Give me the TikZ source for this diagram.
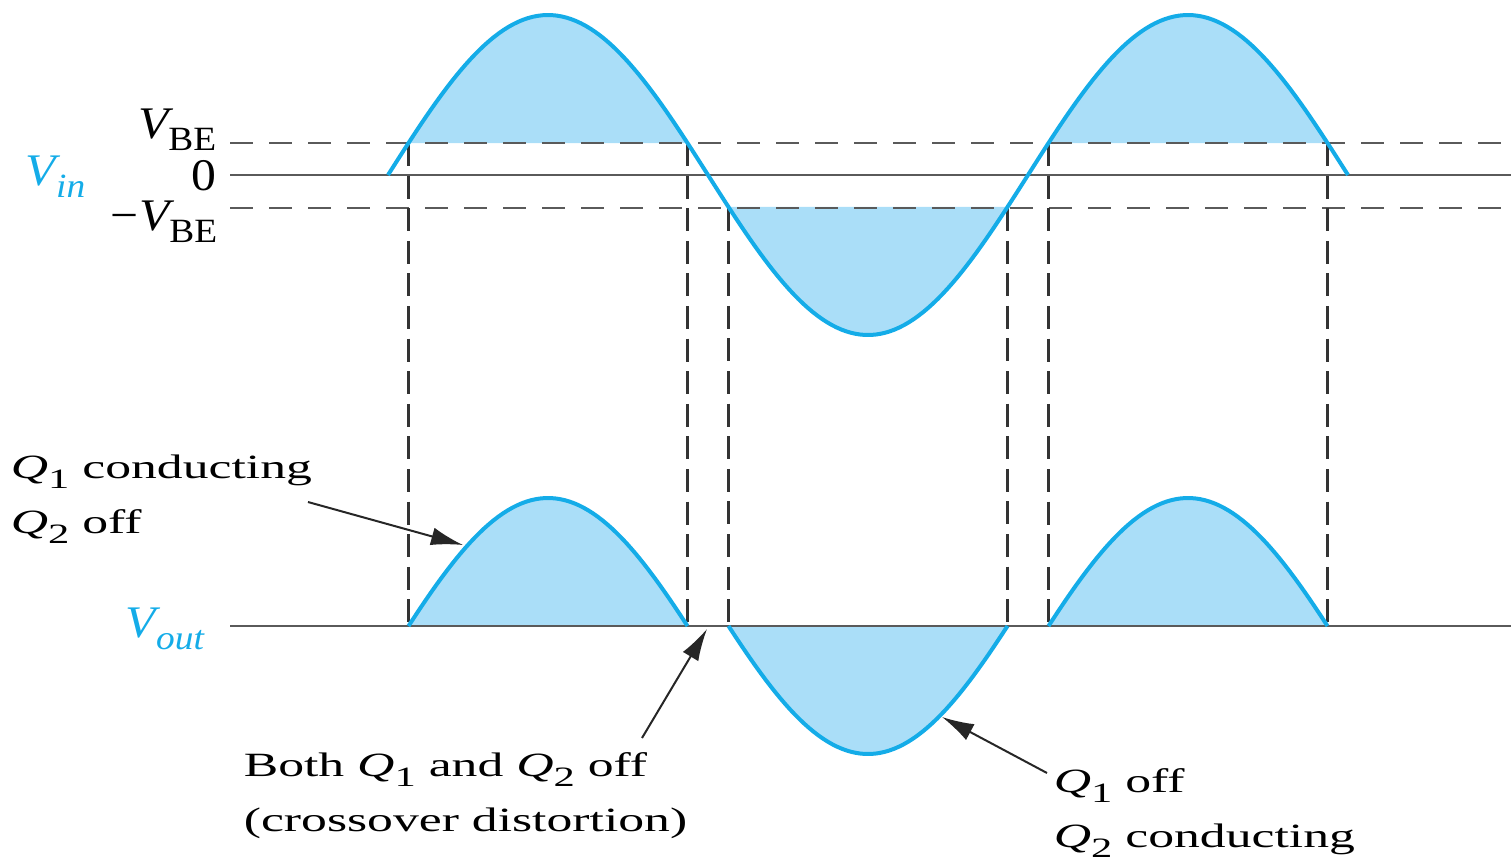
\documentclass[tikz,border=0pt]{standalone}
\usepackage{fontspec}
\setmainfont{Liberation Serif}[FakeStretch=1.52]
\newfontfamily\symfont{Liberation Serif}[FakeStretch=1.1]
\usetikzlibrary{arrows.meta}
\definecolor{wavecol}{RGB}{20,172,232}
\definecolor{wavefill}{RGB}{170,222,248}
\definecolor{axisgray}{RGB}{90,90,90}
% V with an upright or italic subscript, Q with a digit
\newcommand{\Vbig}{{\symfont\fontsize{11.3}{13}\selectfont\itshape V}}
\newcommand{\lowsub}[1]{\raisebox{-3pt}{\symfont\fontsize{8.5}{10}\selectfont #1}}
\newcommand{\Qn}[1]{{\itshape Q}\raisebox{-2.5pt}{\fontsize{7}{8}\selectfont #1}}
\begin{document}
\begin{tikzpicture}[x=0.25pt,y=-0.25pt,line cap=butt,line join=round,
  >={Latex[length=8pt,width=4.5pt]},
  wave/.style={line width=1pt,wavecol},
  hline/.style={line width=0.65pt,axisgray},
  dline/.style={line width=0.65pt,axisgray,dash pattern=on 5.75pt off 4pt},
  vline/.style={line width=0.6pt,black!80,dash pattern=on 5.75pt off 2.4pt},
  pointer/.style={line width=0.5pt,black!85,->},
  lbl/.style={inner sep=0pt,font=\fontsize{8.5}{13.75}\selectfont,align=left}]
  \useasboundingbox (0,0) rectangle (1511,859);
  % shaded parts of the input wave
  \foreach \a/\b/\lev in {408.5/687.5/143,1048.5/1327.5/143,728.5/1007.5/208}
    \fill[wavefill] plot[domain=\a:\b,samples=60] (\x,{175-160*sin((\x-388)*0.5625)}) -- cycle;
  % shaded output wave
  \foreach \a/\b/\s in {408.5/687.5/1,728.5/1007.5/-1,1048.5/1327.5/1}
    \fill[wavefill] plot[domain=\a:\b,samples=60] (\x,{626-(160*sin((\x-388)*0.5625)-\s*32)}) -- cycle;
  % levels
  \draw[hline] (230,175) -- (1511,175);
  \draw[hline] (230,626) -- (1511,626);
  \draw[dline] (230,143) -- (1511,143);
  \draw[dline] (230,208) -- (1511,208);
  \foreach \x/\ytop in {408.5/143,687.5/143,728.5/208,1007.5/208,1048.5/143,1327.5/143}
    \draw[vline] (\x,\ytop) -- (\x,626);
  % waves
  \draw[wave] plot[domain=388:1348,samples=200] (\x,{175-160*sin((\x-388)*0.5625)});
  \foreach \a/\b/\s in {408.5/687.5/1,728.5/1007.5/-1,1048.5/1327.5/1}
    \draw[wave] plot[domain=\a:\b,samples=60] (\x,{626-(160*sin((\x-388)*0.5625)-\s*32)});
  % axis labels
  \node[anchor=base west,inner sep=0pt,wavecol] (vin) at (25,185) {\Vbig\lowsub{\itshape in}};
  \node[anchor=base west,inner sep=0pt,wavecol] (vout) at (125,637) {\Vbig\lowsub{\itshape out}};
  \node[anchor=base east,inner sep=0pt] (vbe) at (217,138) {\Vbig\lowsub{BE}};
  \node[anchor=base east,inner sep=0pt,font=\symfont\fontsize{11.3}{13}\selectfont] (zero) at (217,190) {0};
  \node[anchor=base east,inner sep=0pt] (mvbe) at (218,230) {{\symfont\fontsize{11.3}{13}\selectfont −}\Vbig\lowsub{BE}};
  % notes
  \node[lbl,anchor=north west] (q1on) at (10,454) {\Qn{1} conducting\\\Qn{2} off};
  \node[lbl,anchor=north west] (both) at (243,752) {Both \Qn{1} and \Qn{2} off\\(crossover distortion)};
  \node[lbl,anchor=north west] (q2on) at (1053,768) {\Qn{1} off\\\Qn{2} conducting};
  \coordinate (tailA) at (308,502);
  \coordinate (tipA) at (463,545);
  \coordinate (tailB) at (642,738);
  \coordinate (tipB) at (707,629);
  \coordinate (tailC) at (1047,773);
  \coordinate (tipC) at (942,717);
  \draw[pointer] (tailA) -- (tipA);
  \draw[pointer] (tailB) -- (tipB);
  \draw[pointer] (tailC) -- (tipC);
\end{tikzpicture}
\end{document}
